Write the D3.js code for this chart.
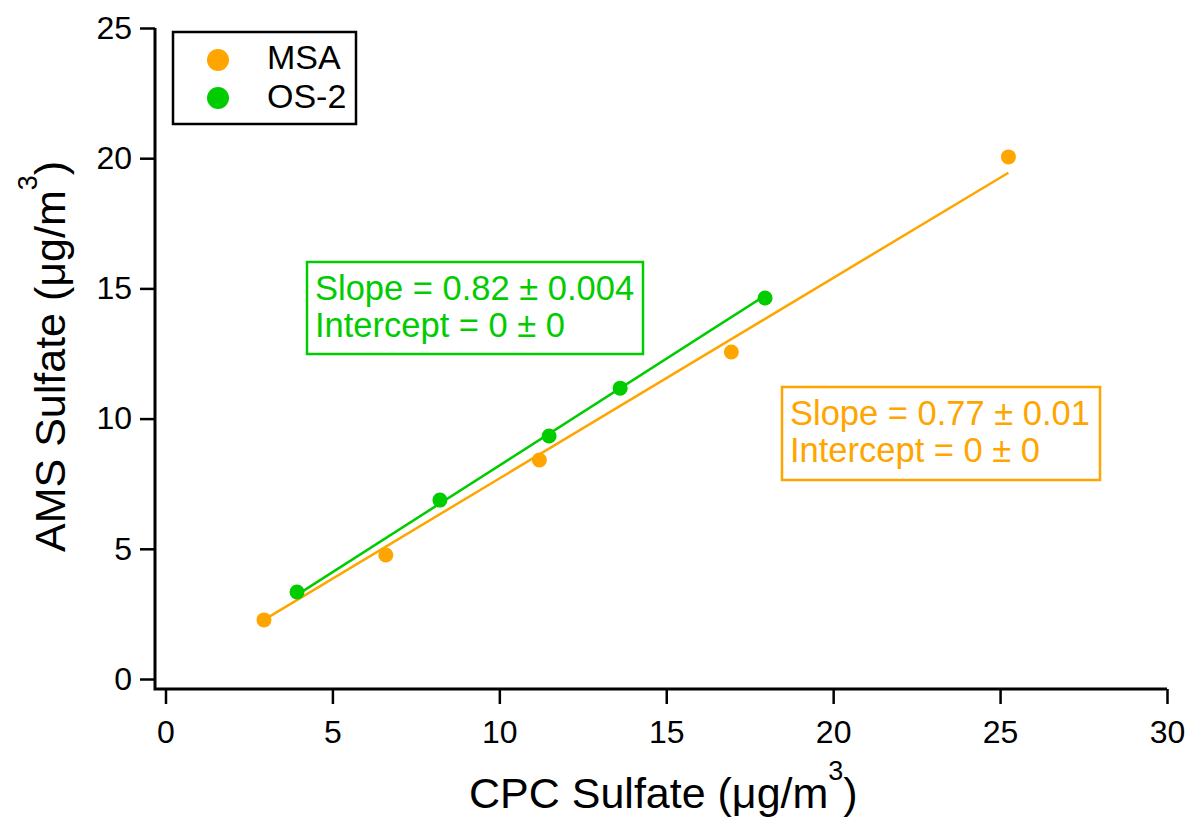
<!DOCTYPE html>
<html>
<head>
<meta charset="utf-8">
<script src="https://cdn.jsdelivr.net/npm/d3@7"></script>
<style>
  body { margin: 0; background: #fff; }
  text { font-family: Arial, "Liberation Sans", sans-serif; }
</style>
</head>
<body>
<div id="chart"></div>
<script>
// data
const msaX = [2.95, 6.6, 11.2, 16.95, 25.25];
const msaY = [2.27, 4.76, 8.41, 12.56, 20.05];
const os2X = [3.94, 8.22, 11.49, 13.62, 17.96];
const os2Y = [3.34, 6.87, 9.33, 11.17, 14.63];
const msaSlope = 0.77;
const os2Slope = 0.82;
const xTicks = [0, 5, 10, 15, 20, 25, 30];
const yTicks = [0, 5, 10, 15, 20, 25];

const orange = '#FFA500';
const green = '#00CC00';

const width = 1190, height = 818;
const svg = d3.select('#chart').append('svg').attr('width', width).attr('height', height);

const x = d3.scaleLinear().domain([0, 30]).range([165.5, 1167]);
const y = d3.scaleLinear().domain([0, 25]).range([679, 28]);

const axisX = 155, axisY = 689;

// axes
const gx = svg.append('g').attr('transform', 'translate(0,' + axisY + ')')
  .call(d3.axisBottom(x).tickValues(xTicks).tickSize(15).tickPadding(16).tickSizeOuter(0));
const gy = svg.append('g').attr('transform', 'translate(' + axisX + ',0)')
  .call(d3.axisLeft(y).tickValues(yTicks).tickSize(15).tickPadding(8).tickSizeOuter(0));
[gx, gy].forEach(g => {
  g.select('.domain').remove();
  g.selectAll('.tick line').attr('stroke', '#000').attr('stroke-width', 2.5);
  g.selectAll('.tick text').attr('fill', '#000').style('font-size', '32px');
});
svg.append('path')
  .attr('d', 'M' + axisX + ',' + y(25) + 'V' + axisY + 'H' + x(30))
  .attr('fill', 'none').attr('stroke', '#000').attr('stroke-width', 3);

// fit lines
function fitLine(xs, slope, color) {
  const ext = d3.extent(xs);
  svg.append('line')
    .attr('x1', x(ext[0])).attr('y1', y(slope * ext[0]))
    .attr('x2', x(ext[1])).attr('y2', y(slope * ext[1]))
    .attr('stroke', color).attr('stroke-width', 2.5);
}
fitLine(msaX, msaSlope, orange);
fitLine(os2X, os2Slope, green);

// points
function points(xs, ys, color) {
  svg.append('g').selectAll('circle')
    .data(xs.map((d, i) => [d, ys[i]]))
    .enter()
    .append('circle')
    .attr('cx', d => x(d[0]))
    .attr('cy', d => y(d[1]))
    .attr('r', 7.5)
    .attr('fill', color);
}
points(msaX, msaY, orange);
points(os2X, os2Y, green);

// legend
const leg = svg.append('g');
leg.append('rect').attr('x', 173).attr('y', 32).attr('width', 183).attr('height', 92)
  .attr('fill', '#fff').attr('stroke', '#000').attr('stroke-width', 2.5);
[['MSA', orange, 69, 60], ['OS-2', green, 108, 98]].forEach(d => {
  leg.append('circle').attr('cx', 218).attr('cy', d[3]).attr('r', 11).attr('fill', d[1]);
  leg.append('text').attr('x', 267).attr('y', d[2]).text(d[0]).style('font-size', '34px').attr('fill', '#000');
});

// fit annotation boxes
function fitBox(bx, by, bw, bh, lines, color) {
  const g = svg.append('g');
  g.append('rect').attr('x', bx).attr('y', by).attr('width', bw).attr('height', bh)
    .attr('fill', '#fff').attr('stroke', color).attr('stroke-width', 2.5);
  lines.forEach((t, i) => {
    g.append('text').attr('x', bx + 8).attr('y', by + 38 + i * 37)
      .attr('fill', color).style('font-size', '34.5px').text(t);
  });
}
fitBox(307, 262, 336, 92, ['Slope = 0.82 \u00b1 0.004', 'Intercept = 0 \u00b1 0'], green);
fitBox(782, 387, 318, 93, ['Slope = 0.77 \u00b1 0.01', 'Intercept = 0 \u00b1 0'], orange);

// axis titles
function titleText(sel, label) {
  sel.style('font-size', '43px').attr('fill', '#000');
  sel.append('tspan').text(label + ' (\u03bcg/m');
  sel.append('tspan').attr('dy', -28).style('font-size', '27px').text('3');
  sel.append('tspan').attr('dy', 28).text(')');
}
svg.append('text').attr('x', 469).attr('y', 808).call(titleText, 'CPC Sulfate');
svg.append('text').attr('transform', 'translate(65,552) rotate(-90)').call(titleText, 'AMS Sulfate');
</script>
</body>
</html>
